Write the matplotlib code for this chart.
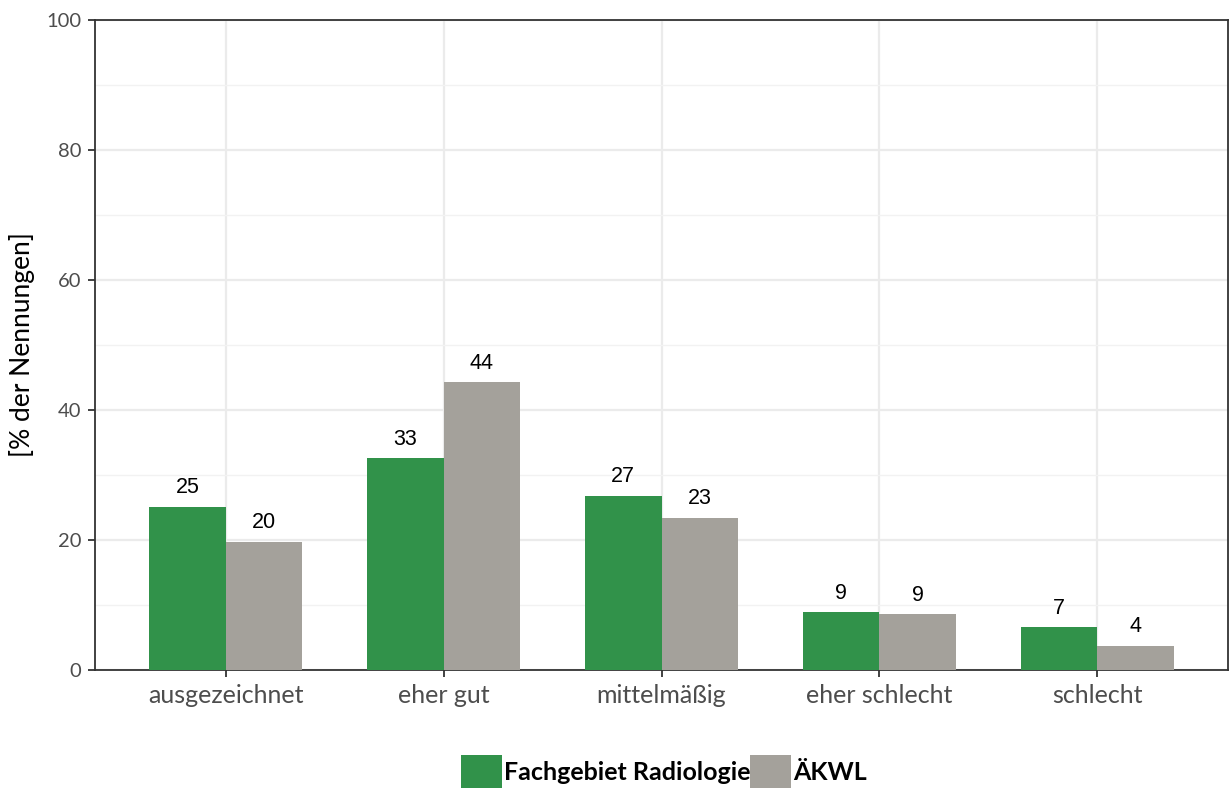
import matplotlib
matplotlib.use('Agg')
import matplotlib.pyplot as plt
import numpy as np

categories = ['ausgezeichnet', 'eher gut', 'mittelmäßig', 'eher schlecht', 'schlecht']
radiologie = [25.1, 32.6, 26.8, 8.9, 6.6]
aekwl = [19.7, 44.3, 23.4, 8.6, 3.7]
series_names = ['Fachgebiet Radiologie', 'ÄKWL']
colors = ['#31924A', '#A4A19B']

plt.rcParams['font.family'] = ['Lato', 'DejaVu Sans']

fig = plt.figure(figsize=(12.29, 7.94), dpi=100)
ax = fig.add_axes([95 / 1229, 1 - 670 / 794, (1228 - 95) / 1229, 650 / 794])

x = np.arange(len(categories))
w = 0.35
b1 = ax.bar(x - w / 2, radiologie, w, color=colors[0], label=series_names[0], zorder=3)
b2 = ax.bar(x + w / 2, aekwl, w, color=colors[1], label=series_names[1], zorder=3)

for bars, vals in ((b1, radiologie), (b2, aekwl)):
    for bar, v in zip(bars, vals):
        ax.text(bar.get_x() + bar.get_width() / 2, v + 1.3, str(int(round(v))),
                ha='center', va='bottom', fontsize=15.5, family='Liberation Sans', zorder=4)

ax.set_xlim(-0.6, 4.6)
ax.set_ylim(0, 100)
ax.set_yticks(range(0, 101, 20))
ax.set_yticks(range(10, 100, 20), minor=True)
ax.set_xticks(x)
ax.set_xticklabels(categories)
ax.grid(True, which='major', color='#EBEBEB', linewidth=1.6, zorder=0)
ax.grid(True, which='minor', axis='y', color='#F2F2F2', linewidth=1.0, zorder=0)
ax.tick_params(axis='both', which='major', color='#333333', length=5, width=1.3,
               labelcolor='#4D4D4D')
ax.tick_params(axis='y', labelsize=14.5, pad=5)
ax.tick_params(axis='x', labelsize=18, pad=5)
ax.tick_params(axis='y', which='minor', length=0)
for s in ax.spines.values():
    s.set_color('#333333')
    s.set_linewidth(1.3)
ax.set_ylabel('[% der Nennungen]', fontsize=19, labelpad=8)

fig.legend(handles=[b1, b2], labels=series_names, loc='lower center',
           bbox_to_anchor=(664 / 1229, -0.008), ncol=2, frameon=False,
           prop={'weight': 'bold', 'size': 18}, handlelength=1.64, handleheight=1.64,
           handletextpad=0.08, columnspacing=0.0, borderpad=0.0)

plt.savefig('out.png', dpi=100, facecolor='white')
